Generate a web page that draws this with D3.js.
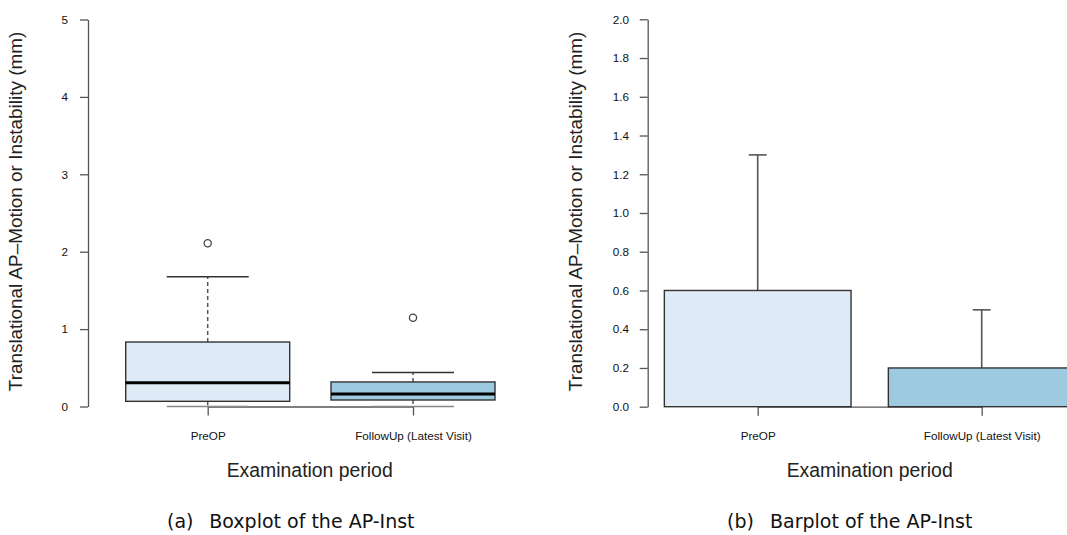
<!DOCTYPE html>
<html>
<head>
<meta charset="utf-8">
<script src="https://cdn.jsdelivr.net/npm/d3@7/dist/d3.min.js"></script>
<style>
  html, body { margin: 0; padding: 0; background: #fff; }
  svg { display: block; }
</style>
</head>
<body>
<svg id="chart" width="1067" height="535"></svg>
<script>
// Examination periods (shared by both panels)
const categories = ["PreOP", "FollowUp (Latest Visit)"];
const fills = ["#DEEBF7", "#9ECAE1"];

// Boxplot summary statistics (mm)
const boxLowerWhisker = [0.0, 0.0];
const boxQ1 = [0.067, 0.084];
const boxMedian = [0.307, 0.162];
const boxQ3 = [0.833, 0.317];
const boxUpperWhisker = [1.677, 0.44];
const boxOutliers = [[2.11], [1.147]];

// Barplot: mean and upper end of error bar (mm)
const barMean = [0.6, 0.2];
const barErrorTop = [1.3, 0.5];

// Axis ticks
const boxTicks = [0, 1, 2, 3, 4, 5];
const barTicks = [0, 0.2, 0.4, 0.6, 0.8, 1.0, 1.2, 1.4, 1.6, 1.8, 2.0];

const yTitle = "Translational AP\u2013Motion or Instability (mm)";
const xTitle = "Examination period";

const svg = d3.select("#chart");
svg.append("rect").attr("width", 1067).attr("height", 535).attr("fill", "#fff");

const axisColor = "#555";
const lineColor = "#333";
const labelFont = "'Liberation Sans', Arial, sans-serif";
const captionFont = "'DejaVu Sans', sans-serif";

function drawYAxis(g, y, ticks, fmt, x0, pad) {
  const ax = d3.axisLeft(y).tickValues(ticks).tickFormat(fmt)
    .tickSize(8).tickSizeOuter(0).tickPadding(pad);
  const a = g.append("g").attr("transform", `translate(${x0},0)`).call(ax);
  a.select(".domain").attr("stroke", axisColor).attr("stroke-width", 1.3);
  a.selectAll(".tick line").attr("stroke", axisColor).attr("stroke-width", 1.3);
  a.selectAll(".tick text")
    .attr("font-family", labelFont).attr("font-size", 11.7)
    .attr("fill", "#111");
}

function drawXAxis(g, x, y0) {
  const ax = d3.axisBottom(x).tickSize(9).tickSizeOuter(0).tickPadding(0);
  const a = g.append("g").attr("transform", `translate(0,${y0})`).call(ax);
  a.select(".domain").attr("stroke", axisColor).attr("stroke-width", 1.3);
  a.selectAll(".tick line").attr("stroke", axisColor).attr("stroke-width", 1.3);
  a.selectAll(".tick text")
    .attr("font-family", labelFont).attr("font-size", 11.7)
    .attr("fill", "#111").attr("dy", null).attr("y", 33.5);
}

function drawTitles(g, yTitleX, xTitleX, capX, capTextX, tag, cap) {
  g.append("text")
    .attr("transform", `translate(${yTitleX},211.5) rotate(-90)`)
    .attr("text-anchor", "middle")
    .attr("font-family", labelFont).attr("font-size", 18.9).attr("fill", "#222")
    .text(yTitle);
  g.append("text")
    .attr("x", xTitleX).attr("y", 477)
    .attr("text-anchor", "middle")
    .attr("font-family", labelFont).attr("font-size", 19.4).attr("fill", "#222")
    .text(xTitle);
  g.append("text")
    .attr("x", capX).attr("y", 528)
    .attr("font-family", captionFont).attr("font-size", 19)
    .attr("fill", "#111")
    .text(tag);
  g.append("text")
    .attr("x", capTextX).attr("y", 528)
    .attr("font-family", captionFont).attr("font-size", 19)
    .attr("fill", "#111")
    .text(cap);
}

// ---------- (a) Boxplot ----------
const gA = svg.append("g");
const yA = d3.scaleLinear().domain([0, 5]).range([406.5, 19.5]);
const xA = d3.scalePoint().domain(categories).range([207.7, 413]);
const boxW = 164;

drawYAxis(gA, yA, boxTicks, d3.format("d"), 88, 12);
drawXAxis(gA, xA, 406.5);

categories.forEach((c, i) => {
  const cx = xA(c);
  // whiskers (dashed)
  gA.append("line")
    .attr("x1", cx).attr("x2", cx)
    .attr("y1", yA(boxQ3[i])).attr("y2", yA(boxUpperWhisker[i]))
    .attr("stroke", axisColor).attr("stroke-width", 1.5).attr("stroke-dasharray", "4,3");
  gA.append("line")
    .attr("x1", cx).attr("x2", cx)
    .attr("y1", yA(boxQ1[i])).attr("y2", yA(boxLowerWhisker[i]))
    .attr("stroke", axisColor).attr("stroke-width", 1.5).attr("stroke-dasharray", "4,3");
  // whisker caps
  [boxUpperWhisker[i], boxLowerWhisker[i]].forEach((v, k) => {
    gA.append("line")
      .attr("x1", cx - boxW / 4).attr("x2", cx + boxW / 4)
      .attr("y1", yA(v)).attr("y2", yA(v))
      .attr("stroke", k === 0 ? lineColor : "#888").attr("stroke-width", 1.4);
  });
  // box
  gA.append("rect")
    .attr("x", cx - boxW / 2).attr("width", boxW)
    .attr("y", yA(boxQ3[i])).attr("height", yA(boxQ1[i]) - yA(boxQ3[i]))
    .attr("fill", fills[i]).attr("stroke", lineColor).attr("stroke-width", 1.4);
  // median
  gA.append("line")
    .attr("x1", cx - boxW / 2).attr("x2", cx + boxW / 2)
    .attr("y1", yA(boxMedian[i])).attr("y2", yA(boxMedian[i]))
    .attr("stroke", "#000").attr("stroke-width", 3);
  // outliers
  boxOutliers[i].forEach(v => {
    gA.append("circle")
      .attr("cx", cx).attr("cy", yA(v)).attr("r", 3.6)
      .attr("fill", "none").attr("stroke", "#444").attr("stroke-width", 1.3);
  });
});

drawTitles(gA, 22, 309.7, 167, 209.3, "(a)", "Boxplot of the AP-Inst");

// ---------- (b) Barplot ----------
const gB = svg.append("g");
const yB = d3.scaleLinear().domain([0, 2]).range([406.7, 19.3]);
const xB = d3.scalePoint().domain(categories).range([757.7, 981.7]);
const barW = 186.7;
const capW = 18;

drawYAxis(gB, yB, barTicks, d3.format(".1f"), 647.7, 10.7);

categories.forEach((c, i) => {
  const cx = xB(c);
  gB.append("line")
    .attr("x1", cx).attr("x2", cx)
    .attr("y1", yB(barMean[i])).attr("y2", yB(barErrorTop[i]))
    .attr("stroke", axisColor).attr("stroke-width", 1.6);
  gB.append("line")
    .attr("x1", cx - capW / 2).attr("x2", cx + capW / 2)
    .attr("y1", yB(barErrorTop[i])).attr("y2", yB(barErrorTop[i]))
    .attr("stroke", axisColor).attr("stroke-width", 1.6);
});

drawXAxis(gB, xB, 406.7);

categories.forEach((c, i) => {
  const cx = xB(c);
  gB.append("rect")
    .attr("x", cx - barW / 2).attr("width", barW)
    .attr("y", yB(barMean[i])).attr("height", yB(0) - yB(barMean[i]))
    .attr("fill", fills[i]).attr("stroke", lineColor).attr("stroke-width", 1.4);
});

drawTitles(gB, 582, 869.7, 727, 770, "(b)", "Barplot of the AP-Inst");
</script>
</body>
</html>
